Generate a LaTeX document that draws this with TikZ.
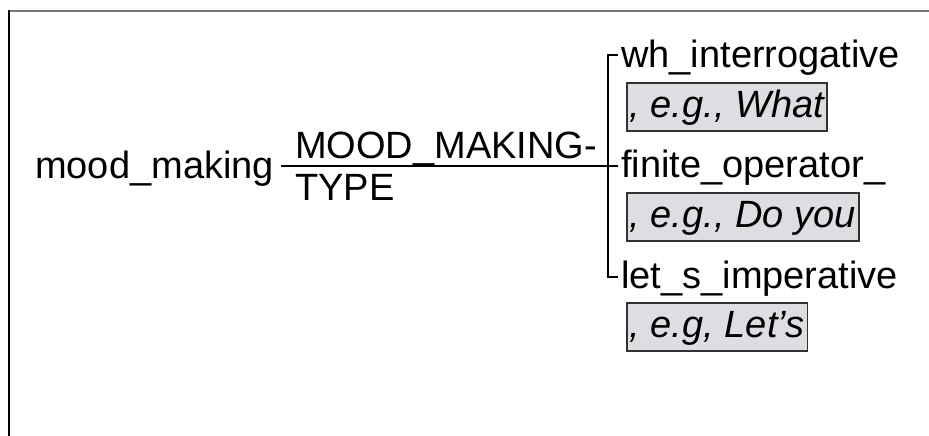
\documentclass[tikz,border=0pt]{standalone}
\usepackage{fontspec}
\setmainfont{Liberation Sans}
\definecolor{boxfill}{RGB}{221,222,226}
\definecolor{boxline}{RGB}{50,50,50}
\definecolor{framegray}{RGB}{120,120,120}
\begin{document}
\begin{tikzpicture}[x=1pt,y=-1pt,
  lbl/.style={anchor=base west,inner sep=0pt,font=\fontsize{38}{45}\selectfont},
  ex/.style={anchor=north west,draw=boxline,line width=1.5pt,fill=boxfill,
    inner xsep=3pt,inner ysep=0pt,text height=35pt,text depth=13pt,
    font=\fontsize{38}{45}\selectfont\itshape},
  conn/.style={line width=1.3pt,black}]
\useasboundingbox (0,0) rectangle (929,436);
\fill[white] (0,0) rectangle (929,436);
% frame
\draw[framegray,line width=2.5pt] (8,11) -- (929,11);
\draw[black,line width=2pt] (9,10) -- (9,436);
% left node and edge label
\node[lbl] (mood) at (35,178) {mood\_making};
\node[lbl] (mmt1) at (295,158) {MOOD\_MAKING-};
\node[lbl] (mmt2) at (295,200) {TYPE};
% branches
\node[lbl] (wh) at (621,67) {wh\_interrogative};
\node[ex] (whex) at (626,82) {, e.g., What};
\node[lbl] (fo) at (621,177) {finite\_operator\_};
\node[ex] (foex) at (626,192) {, e.g., Do you};
\node[lbl] (ls) at (621,288) {let\_s\_imperative};
\node[ex] (lsex) at (626,302) {, e.g, Let’s};
% connectors
\coordinate (start) at (281,166);
\coordinate (j) at (608,166);
\coordinate (j1) at (608,55);
\coordinate (j3) at (608,277);
\coordinate (t1) at (618,55);
\coordinate (t2) at (618,166);
\coordinate (t3) at (618,277);
\draw[conn] (start) -- (j) -- (t2);
\draw[conn] (t1) -- (j1) -- (j3) -- (t3);
\end{tikzpicture}
\end{document}
